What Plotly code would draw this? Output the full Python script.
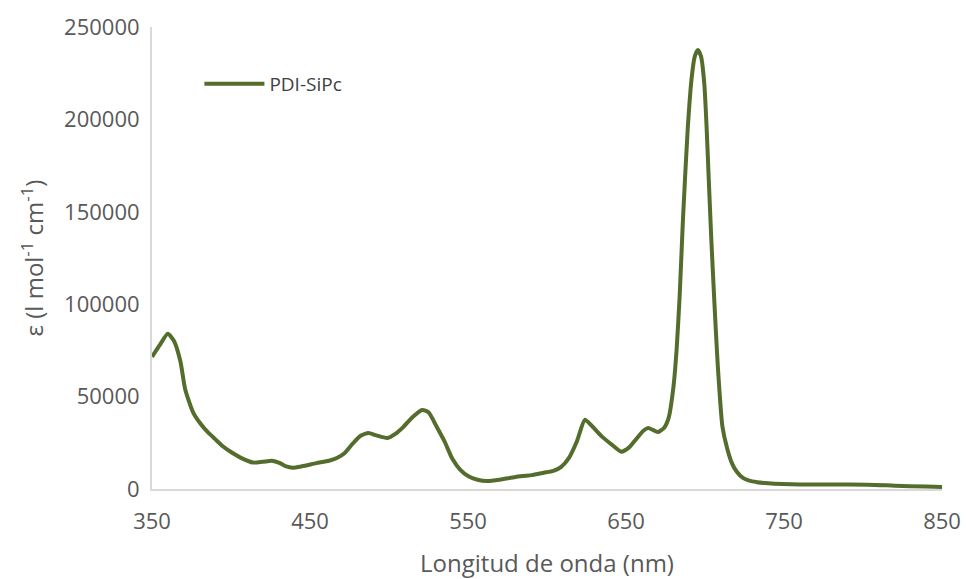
import plotly.graph_objects as go

# Absorption spectrum of PDI-SiPc: wavelength (nm) and molar extinction coefficient
wavelength = [350, 355, 360, 364, 368, 371, 376, 381, 385, 390, 395, 400, 406, 414,
              420, 426, 431, 435, 439, 445, 454, 462, 467, 472, 477, 482, 487, 492,
              499, 504, 509, 515, 521, 525, 530, 535, 540, 545, 550, 556, 562, 570,
              580, 590, 598, 604, 609, 614, 619, 624, 628, 635, 641, 647, 652, 657,
              661, 664, 667, 670, 674, 677, 680, 682, 684, 686, 689, 691.5, 693.5, 695.5,
              697.5, 699.5, 701, 702.5, 704, 706, 708, 711, 714, 717, 720, 724, 728, 733,
              740, 749, 760, 780, 803, 820, 840, 850]
epsilon = [71500, 78000, 84000, 80000, 69000, 54000, 41500, 35000, 31000, 27000, 23000,
           20000, 17000, 14300, 14700, 15300, 14000, 12200, 11500, 12300, 14000, 15300,
           16800, 19500, 24500, 28800, 30300, 29000, 27600, 29800, 33500, 39000, 42800,
           41500, 34000, 26000, 16500, 10500, 7000, 5000, 4300, 5000, 6500, 7500, 8800,
           9800, 12000, 17000, 26000, 37500, 34500, 28200, 24000, 20200, 22500, 27600,
           31500, 33000, 32000, 30800, 33000, 38500, 55000, 75000, 105000, 145000,
           194000, 222000, 234000, 237500, 234000, 220000, 196000, 165000, 135000,
           100000, 68000, 34000, 22000, 14000, 9500, 6000, 4500, 3700, 3100, 2700, 2500,
           2400, 2300, 1800, 1300, 1100]

x_ticks = [350, 450, 550, 650, 750, 850]
y_ticks = [0, 50000, 100000, 150000, 200000, 250000]

line_color = "#556d2c"
text_color = "#595959"
axis_color = "#d9d9d9"
font_family = "Open Sans"

fig = go.Figure()
fig.add_trace(go.Scatter(
    x=wavelength, y=epsilon, mode="lines", name="PDI-SiPc",
    line=dict(color=line_color, width=4, shape="spline", smoothing=0.6),
))

fig.update_layout(
    width=966, height=579,
    margin=dict(l=152, r=24, t=27, b=90),
    paper_bgcolor="white", plot_bgcolor="white",
    font=dict(family=font_family, color=text_color, size=22),
    showlegend=True,
    legend=dict(x=0.06, y=0.877, xanchor="left", yanchor="middle",
                bgcolor="rgba(0,0,0,0)", font=dict(size=19, color="#404040"),
                itemwidth=60),
    xaxis=dict(
        range=[350, 850], tickvals=x_ticks, ticktext=[str(v) for v in x_ticks],
        showgrid=False, zeroline=False, showline=True, linecolor=axis_color,
        linewidth=2, ticks="outside", ticklen=12, tickcolor="rgba(0,0,0,0)",
        automargin=False,
        title=dict(text="Longitud de onda (nm)", standoff=24,
                   font=dict(size=24, color=text_color)),
    ),
    yaxis=dict(
        range=[0, 250000], tickvals=y_ticks, ticktext=[str(v) for v in y_ticks],
        showgrid=False, zeroline=False, showline=True, linecolor=axis_color,
        linewidth=2, ticks="outside", ticklen=6, tickcolor="rgba(0,0,0,0)",
        automargin=False,
        title=dict(text="ε (l mol<sup>-1</sup> cm<sup>-1</sup>)", standoff=14,
                   font=dict(size=24, color=text_color)),
    ),
)

fig.write_html("out.html")
